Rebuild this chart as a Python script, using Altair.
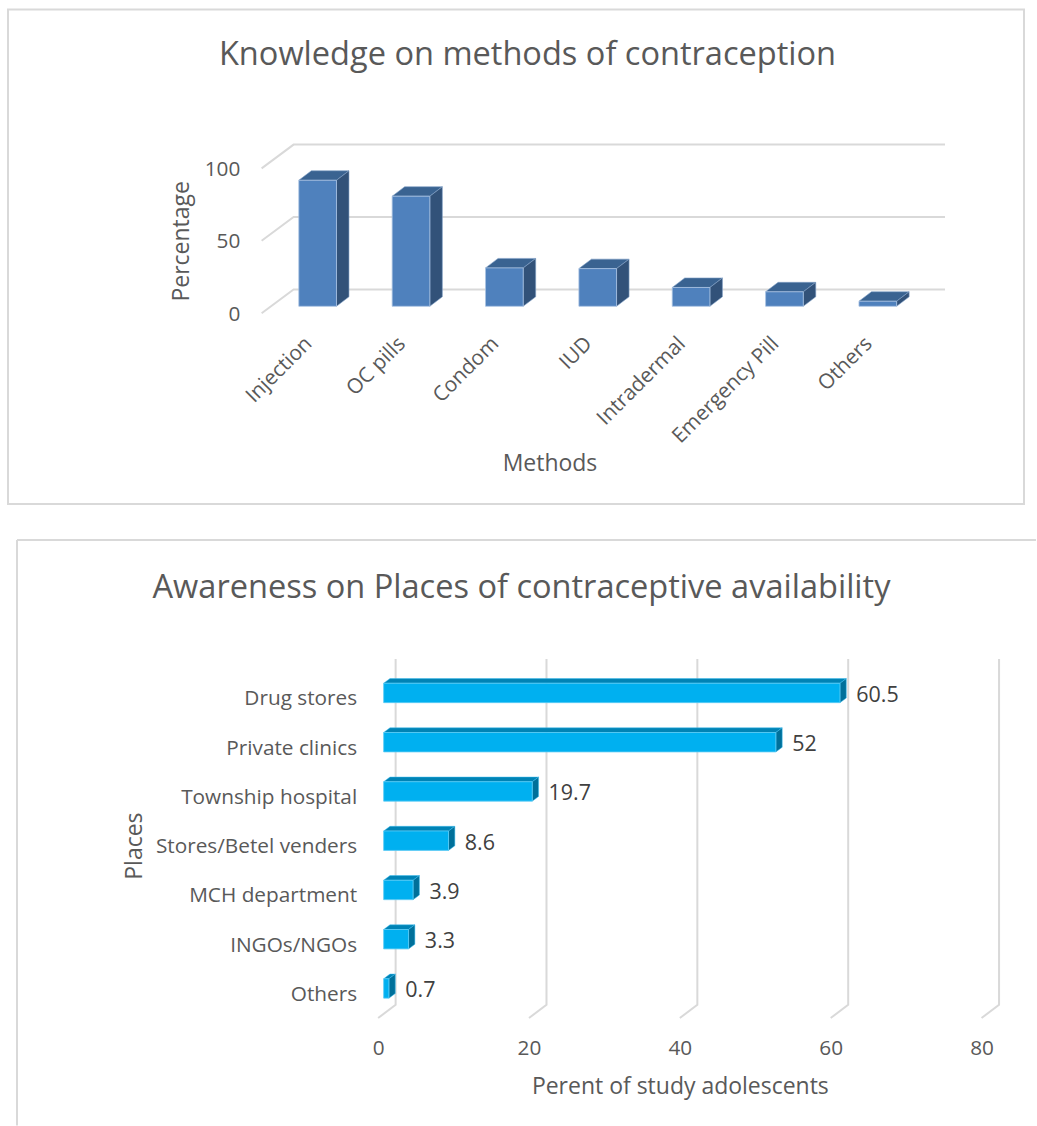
import json
import altair as alt
import pandas as pd

# Survey results
methods = ["Injection", "OC pills", "Condom", "IUD", "Intradermal", "Emergency Pill", "Others"]
method_pct = [87, 76, 26.5, 26, 13, 10, 3.5]
places = ["Drug stores", "Private clinics", "Township hospital", "Stores/Betel venders",
          "MCH department", "INGOs/NGOs", "Others"]
place_pct = [60.5, 52, 19.7, 8.6, 3.9, 3.3, 0.7]
pct_ticks_top = [0, 50, 100]
pct_ticks_bottom = [0, 20, 40, 60, 80]

FONT = "Open Sans"
TEXT = "#595959"
GRID = "#d9d9d9"
W = 1037
H1, H2 = 525, 601
LABEL_SIZE = 20.8
AXIS_TITLE_SIZE = 23
TITLE_SIZE = 32.6


def oblique_faces(x0, x1, y0, y1, dx, dy, name):
    """Top and side faces of a box whose front is (x0..x1, y0..y1), pushed back by (dx, dy)."""
    rows = []
    w = x1 - x0
    stops = sorted({x0, x0 + min(w, dx), x0 + max(w, dx), x1 + dx})
    for x in stops:
        rows.append(dict(face=f"{name}-top", part="top", x=x,
                         a=y1 + dy * min((x - x0) / dx, 1),
                         b=y1 + dy * max((x - x0 - w) / dx, 0)))
    for x, k in ((x1, 0), (x1 + dx, 1)):
        rows.append(dict(face=f"{name}-side", part="side", x=x, a=y1 + dy * k, b=y0 + dy * k))
    return rows


def label_expr(names):
    return f"{json.dumps(names)}[datum.value]"


def text_layer(text, x, y, size, angle=0, color=TEXT):
    return alt.Chart(alt.Data(values=[{"t": text}])).mark_text(
        font=FONT, fontSize=size, color=color, angle=angle, align="center", baseline="middle"
    ).encode(text="t:N", x=alt.value(x), y=alt.value(y))


common = dict(labelFont=FONT, labelFontSize=LABEL_SIZE, labelColor=TEXT, domain=False, ticks=False,
              grid=False, titleFont=FONT, titleFontSize=AXIS_TITLE_SIZE, titleColor=TEXT,
              titleFontWeight="normal", labelOverlap=False, labelBound=False, labelFlush=False,
              labelLimit=400)

# ---------- upper chart: vertical boxes ----------
x1_scale = alt.Scale(domain=[0, 6], range=[308.6, 869.3], nice=False, zero=False)
y1_scale = alt.Scale(domain=[0, 100], range=[313, 168], nice=False, zero=False)
x1_axis = alt.Axis(values=list(range(7)), labelExpr=label_expr(methods), labelAngle=-45,
                   labelAlign="right", labelBaseline="middle", labelPadding=18, offset=-(H1 - 322),
                   title="Methods", titleX=550, titleY=141, titleAnchor="middle", titleAlign="center",
                   titleBaseline="middle", **common)
y1_axis = alt.Axis(values=pct_ticks_top, labelPadding=5, labelOffset=1, offset=-245, title="Percentage",
                   titlePadding=11, **common)
BX = 0.1        # front of the boxes relative to the axis plane, category units
BY = 4.8        # same, percent units
HALF = 0.2017
DX1, DY1 = 0.134, 6.55

front1 = pd.DataFrame([dict(x0=i + BX - HALF, x1=i + BX + HALF, y0=BY, y1=v + BY)
                       for i, v in enumerate(method_pct)])
faces1 = pd.DataFrame([r for i, v in enumerate(method_pct)
                       for r in oblique_faces(i + BX - HALF, i + BX + HALF, BY, v + BY, DX1, DY1, f"m{i}")])
wall1 = pd.DataFrame([r for t in pct_ticks_top for r in (
    dict(tick=t, o=0, x=-0.5, y=t),
    dict(tick=t, o=1, x=-0.1575, y=t + 16.4),
    dict(tick=t, o=2, x=6.82, y=t + 16.4))])

grid1 = alt.Chart(wall1).mark_line(color=GRID, strokeWidth=2).encode(
    x=alt.X("x:Q", scale=x1_scale, axis=x1_axis),
    y=alt.Y("y:Q", scale=y1_scale, axis=y1_axis),
    detail="tick:N", order="o:Q")

box_side1 = alt.Chart(faces1).mark_area(orient="vertical", strokeWidth=0.6, stroke="#7f9fc6").encode(
    x=alt.X("x:Q", scale=x1_scale, axis=x1_axis),
    y=alt.Y("a:Q", scale=y1_scale, axis=y1_axis),
    y2="b:Q", detail="face:N",
    color=alt.Color("part:N", legend=None,
                    scale=alt.Scale(domain=["top", "side"], range=["#3a6391", "#325279"])))
box_front1 = alt.Chart(front1).mark_rect(color="#4f81bd", stroke="#a9c3e2", strokeWidth=0.8).encode(
    x=alt.X("x0:Q", scale=x1_scale, axis=x1_axis), x2="x1:Q",
    y=alt.Y("y0:Q", scale=y1_scale, axis=y1_axis), y2="y1:Q")
frame1 = alt.Chart(alt.Data(values=[{}])).mark_rect(
    fill="transparent", stroke=GRID, strokeWidth=2
).encode(x=alt.value(8), x2=alt.value(1025), y=alt.value(9), y2=alt.value(504))

upper = alt.layer(
    frame1, grid1, box_side1, box_front1,
    text_layer("Knowledge on methods of contraception", 528, 55, TITLE_SIZE),
).resolve_scale(color="independent").properties(width=W, height=H1)

# ---------- lower chart: horizontal boxes ----------
x2_scale = alt.Scale(domain=[0, 80], range=[378.5, 982.5], nice=False, zero=False)
y2_scale = alt.Scale(domain=[0, 6], range=[173, 468.8], nice=False, zero=False)
x2_axis = alt.Axis(values=pct_ticks_bottom, labelPadding=16, offset=-103,
                   title="Perent of study adolescents", titlePadding=17, **common)
y2_axis = alt.Axis(values=list(range(7)), labelExpr=label_expr(places), labelPadding=5, labelOffset=1,
                   offset=-362, title="Places", titlePadding=15, **common)
FX = 0.73       # bar start relative to the axis plane, percent units
FY = -0.1       # category units
HALF2 = 0.197
DX2, DY2 = 0.84, -0.095

front2 = pd.DataFrame([dict(x0=FX, x1=FX + v, y0=i + FY - HALF2, y1=i + FY + HALF2)
                       for i, v in enumerate(place_pct)])
faces2 = pd.DataFrame([r for i, v in enumerate(place_pct)
                       for r in oblique_faces(FX, FX + v, i + FY + HALF2, i + FY - HALF2, DX2, DY2, f"p{i}")])
wall2 = pd.DataFrame([r for t in pct_ticks_bottom for r in (
    dict(tick=t, o=0, x=t, y=6.5),
    dict(tick=t, o=1, x=t + 2.32, y=6.23),
    dict(tick=t, o=2, x=t + 2.32, y=-0.79))])
value_labels = pd.DataFrame(dict(
    x=[FX + v + DX2 for v in place_pct], y=[i + FY for i in range(7)],
    t=[f"{v:g}" for v in place_pct]))

grid2 = alt.Chart(wall2).mark_line(color=GRID, strokeWidth=2).encode(
    x=alt.X("x:Q", scale=x2_scale, axis=x2_axis),
    y=alt.Y("y:Q", scale=y2_scale, axis=y2_axis),
    detail="tick:N", order="o:Q")

box_side2 = alt.Chart(faces2).mark_area(orient="vertical", strokeWidth=0.5, stroke="#38bdf0").encode(
    x=alt.X("x:Q", scale=x2_scale, axis=x2_axis),
    y=alt.Y("a:Q", scale=y2_scale, axis=y2_axis),
    y2="b:Q", detail="face:N",
    color=alt.Color("part:N", legend=None,
                    scale=alt.Scale(domain=["top", "side"], range=["#0083b5", "#00709a"])))
box_front2 = alt.Chart(front2).mark_rect(color="#00b0f0", stroke="#5ccbf5", strokeWidth=0.8).encode(
    x=alt.X("x0:Q", scale=x2_scale, axis=x2_axis), x2="x1:Q",
    y=alt.Y("y0:Q", scale=y2_scale, axis=y2_axis), y2="y1:Q")
bar_text = alt.Chart(value_labels).mark_text(
    font=FONT, fontSize=21.5, color="#404040", align="left", baseline="middle", dx=10, dy=3
).encode(x=alt.X("x:Q", scale=x2_scale, axis=x2_axis), y=alt.Y("y:Q", scale=y2_scale, axis=y2_axis),
         text="t:N")

frame_top = alt.Chart(alt.Data(values=[{}])).mark_rule(color=GRID, strokeWidth=2).encode(
    x=alt.value(17), x2=alt.value(W), y=alt.value(15))
frame_left = alt.Chart(alt.Data(values=[{}])).mark_rule(color=GRID, strokeWidth=2).encode(
    x=alt.value(17), y=alt.value(15), y2=alt.value(H2))

lower = alt.layer(
    frame_top, frame_left, grid2, box_side2, box_front2, bar_text,
    text_layer("Awareness on Places of contraceptive availability", 522, 63, TITLE_SIZE),
).resolve_scale(color="independent").properties(width=W, height=H2)

chart = alt.vconcat(upper, lower, spacing=0).properties(padding=0).configure_view(stroke=None)
chart.save("out.html", embed_options={"renderer": "svg", "actions": False})
